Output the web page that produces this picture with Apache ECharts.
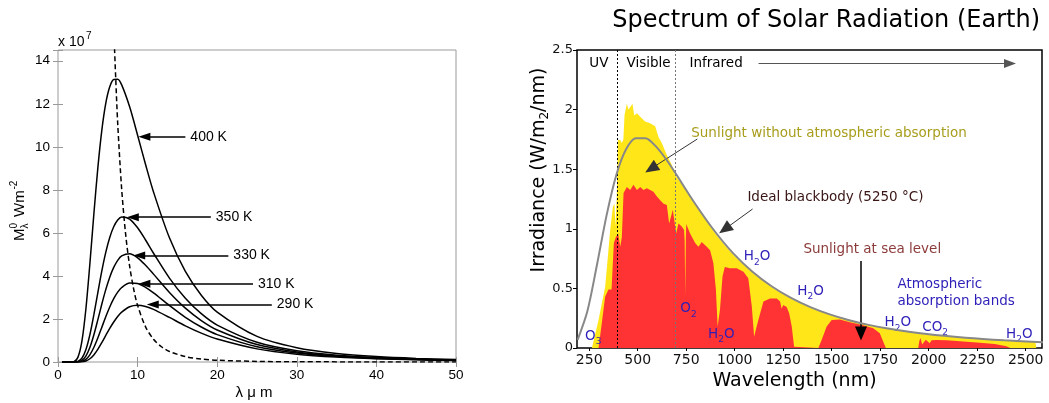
<!DOCTYPE html>
<html><head><meta charset="utf-8">
<script src="https://cdn.jsdelivr.net/npm/echarts@6/dist/echarts.min.js"></script>
<style>html,body{margin:0;padding:0;background:#fff}#c{width:1049px;height:403px}</style>
</head><body><div id="c"></div>
<script>
// ---------- Left panel: Planck curves (units x 10^7 W m^-2 per m) ----------
const lambdaUm = [0.5,1,1.5,2,2.5,3,3.5,4,4.5,5,5.5,6,6.5,7,7.5,8,9,10,11,12,14,16,18,20,25,30,35,40,45,50];
const m400 = [0,0,0,0.018,0.216,0.956,2.452,4.544,6.853,9.00,10.755,12.02,12.79,13.13,13.14,12.88,11.86,10.54,9.18,7.90,5.77,4.21,3.106,2.32,1.19,0.665,0.397,0.251,0.166,0.114];
const m350 = [0,0,0,0.0014,0.028,0.172,0.565,1.258,2.187,3.218,4.223,5.095,5.789,6.283,6.596,6.737,6.645,6.236,5.67,5.055,3.90,2.962,2.246,1.717,0.918,0.525,0.3185,0.2036,0.1358,0.0939];
const m330 = [0,0,0,0.0004,0.0102,0.0752,0.277,0.6745,1.2566,1.956,2.684,3.363,3.944,4.398,4.726,4.929,5.03,4.843,4.496,4.084,3.233,2.503,1.928,1.49,0.812,0.47,0.288,0.185,0.124,0.086];
const m310 = [0,0,0,0.0001,0.0033,0.0294,0.124,0.334,0.6726,1.114,1.608,2.104,2.557,2.943,3.245,3.462,3.671,3.647,3.469,3.21,2.624,2.076,1.626,1.273,0.7095,0.4165,0.2576,0.1668,0.1124,0.0782];
const m290 = [0,0,0,0,0.0009,0.0101,0.0497,0.15,0.33,0.587,0.8986,1.234,1.5625,1.86,2.116,2.318,2.568,2.639,2.582,2.447,2.071,1.682,1.343,1.0676,0.6105,0.3643,0.2279,0.1487,0.1008,0.0705];
const wienUm = [7.1,7.25,7.5,8,8.5,9,9.5,10,11,12,13,14,16,18,20,25,30,40,50];
const wienM  = [14.58,13.2,11.09,8.03,5.93,4.456,3.40,2.631,1.634,1.057,0.709,0.489,0.251,0.139,0.082,0.027,0.011,0.0026,0.0008];
const tempLabels = ['400 K','350 K','330 K','310 K','290 K'];
const arrowFromX = [16.0, 19.2, 21.4, 24.5, 26.86];
const arrowToX   = [10.85, 9.4, 10.2, 10.85, 11.9];
const arrowY     = [10.47, 6.73, 4.95, 3.64, 2.67];

// ---------- Right panel: solar spectrum (W/m2/nm) ----------
const bbNm  = [190,240,290,340,390,440,490,540,590,640,690,790,890,990,1090,1190,1290,1390,1490,1590,1690,1790,1990,2190,2390,2590];
const bbVal = [0.0686,0.306,0.698,1.117,1.454,1.667,1.760,1.760,1.698,1.598,1.478,1.225,0.994,0.798,0.642,0.518,0.420,0.343,0.282,0.233,0.194,0.163,0.117,0.0856,0.0641,0.0489];
const toaNm  = [264,298,315,332,349,358,372,380,385,392,398,410,418,426,432,444,452,461,473,482,496,513,538,564,590,607,624,650,676,693,750,800,850,900,950,1000,1100,1200,1300,1400,1500,1600,1700,1800,1900,2000,2200,2400,2550,2555];
const toaVal = [0,0.235,0.375,0.51,0.82,0.99,1.185,1.21,1.02,1.27,1.745,1.745,1.72,1.75,1.955,2.05,2.0,2.02,2.05,1.95,1.97,1.94,1.90,1.885,1.86,1.77,1.72,1.62,1.535,1.45,1.33,1.20,1.08,0.96,0.86,0.77,0.62,0.50,0.405,0.332,0.273,0.226,0.188,0.157,0.133,0.112,0.082,0.061,0.05,0];
const seaNm  = [298,315,332,349,365,377,387,399,410,418,427,444,461,478,496,513,530,547,564,581,599,616,633,650,662,672,681,690,698,710,727,739,742,745,748,750,770,796,813,830,856,873,890,903,912,924,937,949,975,1010,1045,1070,1088,1100,1113,1131,1148,1182,1217,1234,1242,1250,1268,1281,1294,1306,1310,1431,1448,1474,1500,1542,1594,1662,1714,1748,1769,1779,1946,1952,1958,1966,1975,1985,1995,2005,2015,2040,2092,2178,2264,2340,2401,2420];
const seaVal = [0,0.21,0.43,0.49,0.49,0.88,0.93,0.96,0.85,0.93,1.30,1.35,1.325,1.37,1.325,1.35,1.325,1.34,1.325,1.31,1.27,1.24,1.21,1.20,1.045,1.035,1.16,1.17,0.96,1.045,1.02,0.99,0.9,0.43,0.9,1.04,0.96,0.88,0.85,0.89,0.85,0.82,0.71,0.49,0.18,0.32,0.60,0.68,0.67,0.67,0.64,0.585,0.35,0.095,0.18,0.29,0.39,0.415,0.415,0.39,0.33,0.36,0.345,0.29,0.18,0.01,0,0,0.067,0.18,0.235,0.24,0.215,0.19,0.165,0.123,0.04,0,0,0.06,0.084,0.03,0.02,0.07,0.075,0.04,0.065,0.068,0.065,0.055,0.045,0.033,0.015,0];
const xTicksR = [250,500,750,1000,1250,1500,1750,2000,2250,2500];

const pairs = (xs, ys) => xs.map((x, i) => [x, ys[i]]);
const BLUE = '#2d1fb8';
const DJ = 'DejaVu Sans', LS = 'Liberation Sans';
const subRich = (c) => ({
  b: {fontFamily: DJ, fontSize: 13.5, color: c, lineHeight: 20},
  s: {fontFamily: DJ, fontSize: 9, color: c, lineHeight: 11, verticalAlign: 'bottom'}
});
const txt = (coord, formatter, color, extra) => Object.assign({
  coord, label: {formatter, color, rich: subRich(color)}
}, extra || {});

const planckSeries = [m400, m350, m330, m310, m290].map((arr, k) => ({
  type: 'line', name: tempLabels[k], xAxisIndex: 0, yAxisIndex: 0,
  data: pairs(lambdaUm, arr), smooth: 0.3, symbol: 'none',
  lineStyle: {color: '#000', width: 1.5}, z: 3
}));
planckSeries[0].markLine = {
  silent: true, animation: false, symbol: ['none', 'none'],
  lineStyle: {color: '#000', width: 1.5, type: 'solid'},
  label: {show: true, position: 'start', formatter: '{b}', color: '#000', fontSize: 14, fontFamily: LS, distance: 5},
  data: tempLabels.map((t, i) => [
    {coord: [arrowFromX[i], arrowY[i]], name: t},
    {coord: [arrowToX[i], arrowY[i]], symbol: 'triangle', symbolSize: [8, 12]}
  ])
};

const option = {
  animation: false,
  textStyle: {fontFamily: LS},
  title: {text: 'Spectrum of Solar Radiation (Earth)', right: 9, top: 9, padding: 0,
    textStyle: {fontFamily: DJ, fontSize: 24, fontWeight: 'normal', color: '#000'}},
  grid: [
    {left: 58, top: 50, width: 398, height: 312, show: true, borderColor: '#9a9a9a', borderWidth: 1, backgroundColor: 'transparent', outerBoundsMode: 'none', containLabel: false},
    {left: 577, top: 50, width: 465, height: 298, show: true, borderColor: '#000', borderWidth: 1.5, backgroundColor: 'transparent', outerBoundsMode: 'none', containLabel: false}
  ],
  xAxis: [
    {gridIndex: 0, type: 'value', min: 0, max: 50, interval: 10,
     axisLine: {show: false}, axisTick: {inside: true, length: 5, lineStyle: {color: '#999'}},
     splitLine: {show: false}, axisLabel: {color: '#000', fontSize: 13.5, margin: 6, fontFamily: LS},
     name: 'λ μ m', nameLocation: 'middle', nameGap: 23, nameMoveOverlap: false,
     nameTextStyle: {fontSize: 15, color: '#000', fontFamily: LS, padding: [0, 6, 0, 0]}},
    {gridIndex: 0, type: 'value', position: 'top', min: 0, max: 50, interval: 10,
     axisLine: {show: false}, axisTick: {inside: true, length: 5, lineStyle: {color: '#999'}},
     splitLine: {show: false}, axisLabel: {show: false}},
    {gridIndex: 1, type: 'value', min: 187, max: 2584,
     axisLine: {show: false}, axisTick: {show: true, customValues: xTicksR, inside: false, length: 3, lineStyle: {color: '#000'}},
     splitLine: {show: false},
     axisLabel: {customValues: xTicksR, color: '#111', fontSize: 14, fontFamily: DJ, margin: 5, formatter: v => String(v)},
     name: 'Wavelength (nm)', nameLocation: 'middle', nameGap: 24, nameMoveOverlap: false,
     nameTextStyle: {fontFamily: DJ, fontSize: 19, color: '#000', padding: [0, 30, 0, 0]}}
  ],
  yAxis: [
    {gridIndex: 0, type: 'value', min: 0, max: 14.5, interval: 2,
     axisLine: {show: false}, axisTick: {inside: true, length: 5, lineStyle: {color: '#999'}},
     splitLine: {show: false},
     axisLabel: {color: '#000', fontSize: 13.5, margin: 8, fontFamily: LS, formatter: v => (v % 2 === 0 ? String(v) : '')}},
    {gridIndex: 0, type: 'value', position: 'right', min: 0, max: 14.5, interval: 2,
     axisLine: {show: false}, axisTick: {inside: true, length: 5, lineStyle: {color: '#999'}},
     splitLine: {show: false}, axisLabel: {show: false}},
    {gridIndex: 1, type: 'value', min: 0, max: 2.5, interval: 0.5,
     axisLine: {show: false}, axisTick: {show: true, inside: false, length: 4, lineStyle: {color: '#000'}},
     splitLine: {show: false},
     axisLabel: {color: '#111', fontSize: 13, fontFamily: DJ, margin: 4, padding: [0, 0, 4, 0]},
     name: '{a|Irradiance (W/m}{s|2}{a|/nm)}', nameLocation: 'middle', nameGap: 26, nameMoveOverlap: false,
     nameTextStyle: {padding: [0, 0, 0, 58], rich: {
       a: {fontFamily: DJ, fontSize: 19, color: '#000', lineHeight: 24},
       s: {fontFamily: DJ, fontSize: 12, color: '#000', lineHeight: 13, verticalAlign: 'bottom'}}}}
  ],
  graphic: [
    {type: 'text', x: 58, y: 42, style: {text: 'x 10', fontSize: 14, fontFamily: LS, fill: '#000', align: 'left', verticalAlign: 'middle', textAlign: 'left', textVerticalAlign: 'middle'}},
    {type: 'text', x: 86, y: 36, style: {text: '7', fontSize: 10, fontFamily: LS, fill: '#000', align: 'left', verticalAlign: 'middle', textAlign: 'left', textVerticalAlign: 'middle'}},
    {type: 'group', x: 20, y: 209, rotation: Math.PI / 2, children: [
      {type: 'text', x: -32, y: 0, style: {text: 'M', fontSize: 15, fontFamily: LS, fill: '#000', align: 'left', verticalAlign: 'middle', textAlign: 'left', textVerticalAlign: 'middle'}},
      {type: 'text', x: -19.5, y: -6, style: {text: '0', fontSize: 10, fontFamily: LS, fill: '#000', align: 'left', verticalAlign: 'middle', textAlign: 'left', textVerticalAlign: 'middle'}},
      {type: 'text', x: -19.5, y: 5, style: {text: 'λ', fontSize: 10, fontFamily: LS, fill: '#000', align: 'left', verticalAlign: 'middle', textAlign: 'left', textVerticalAlign: 'middle'}},
      {type: 'text', x: -8, y: 0, style: {text: 'Wm', fontSize: 15, fontFamily: LS, fill: '#000', align: 'left', verticalAlign: 'middle', textAlign: 'left', textVerticalAlign: 'middle'}},
      {type: 'text', x: 19.5, y: -6, style: {text: '-2', fontSize: 10, fontFamily: LS, fill: '#000', align: 'left', verticalAlign: 'middle', textAlign: 'left', textVerticalAlign: 'middle'}}
    ]}
  ],
  series: planckSeries.concat([
    {type: 'line', name: 'Wien', xAxisIndex: 0, yAxisIndex: 0, data: pairs(wienUm, wienM),
     smooth: 0.3, symbol: 'none', lineStyle: {color: '#000', width: 1.5, type: [5, 3]}, z: 3},
    {type: 'line', name: 'TOA', xAxisIndex: 2, yAxisIndex: 2, data: pairs(toaNm, toaVal),
     symbol: 'none', lineStyle: {width: 0}, areaStyle: {color: '#ffe619', opacity: 1}, z: 2},
    {type: 'line', name: 'Sea level', xAxisIndex: 2, yAxisIndex: 2, data: pairs(seaNm, seaVal),
     symbol: 'none', lineStyle: {width: 0}, areaStyle: {color: '#ff3333', opacity: 1}, z: 3},
    {type: 'line', name: 'Blackbody', xAxisIndex: 2, yAxisIndex: 2, data: pairs(bbNm, bbVal),
     smooth: 0.3, symbol: 'none', lineStyle: {color: '#888', width: 2}, z: 5,
     markLine: {
       silent: true, animation: false, symbol: ['none', 'none'], label: {show: false},
       data: [
         [{coord: [392, 0], lineStyle: {color: '#000', width: 1, type: [2, 2]}}, {coord: [392, 2.5]}],
         [{coord: [693, 0], lineStyle: {color: '#777', width: 1, type: [2, 2]}}, {coord: [693, 2.5]}],
         [{coord: [1123, 2.386], lineStyle: {color: '#555', width: 1.2, type: 'solid'}}, {coord: [2419, 2.386], symbol: 'triangle', symbolSize: [9, 12]}],
         [{coord: [807, 1.753], lineStyle: {color: '#333', width: 1, type: 'solid'}}, {coord: [569, 1.505], symbol: 'triangle', symbolSize: [12, 14]}],
         [{coord: [1092, 1.166], lineStyle: {color: '#333', width: 1, type: 'solid'}}, {coord: [949, 0.997], symbol: 'triangle', symbolSize: [12, 14]}],
         [{coord: [1651, 0.73], lineStyle: {color: '#000', width: 1.5, type: 'solid'}}, {coord: [1651, 0.121], symbol: 'triangle', symbolSize: [12, 14]}]
       ]
     },
     markPoint: {
       silent: true, animation: false, symbol: 'rect', symbolSize: 1, itemStyle: {color: 'rgba(0,0,0,0)'},
       label: {show: true, position: 'inside', fontFamily: DJ, fontSize: 13.5},
       data: [
         txt([300, 2.386], '{b|UV}', '#000'),
         txt([556, 2.386], '{b|Visible}', '#000'),
         txt([904, 2.386], '{b|Infrared}', '#000'),
         txt([1486, 1.803], '{b|Sunlight without atmospheric absorption}', '#a89d1c'),
         txt([1519, 1.259], '{b|Ideal blackbody (5250 °C)}', '#3a1515'),
         txt([1709, 0.828], '{b|Sunlight at sea level}', '#8c3b3b'),
         txt([1115, 0.766], '{b|H}{s|2}{b|O}', BLUE),
         txt([1391, 0.476], '{b|H}{s|2}{b|O}', BLUE),
         txt([1841, 0.211], '{b|H}{s|2}{b|O}', BLUE),
         txt([2467, 0.116], '{b|H}{s|2}{b|O}', BLUE),
         txt([931, 0.112], '{b|H}{s|2}{b|O}', BLUE),
         txt([762, 0.33], '{b|O}{s|2}', BLUE),
         txt([271, 0.099], '{b|O}{s|3}', BLUE),
         txt([2033, 0.174], '{b|CO}{s|2}', BLUE),
         {coord: [1836, 0.535], label: {formatter: '{b|Atmospheric}', position: 'right', distance: 0, rich: subRich(BLUE)}},
         {coord: [1836, 0.392], label: {formatter: '{b|absorption bands}', position: 'right', distance: 0, rich: subRich(BLUE)}}
       ]
     }}
  ])
};

const chart = echarts.init(document.getElementById('c'), null, {renderer: 'canvas'});
chart.setOption(option);
</script>
</body></html>
